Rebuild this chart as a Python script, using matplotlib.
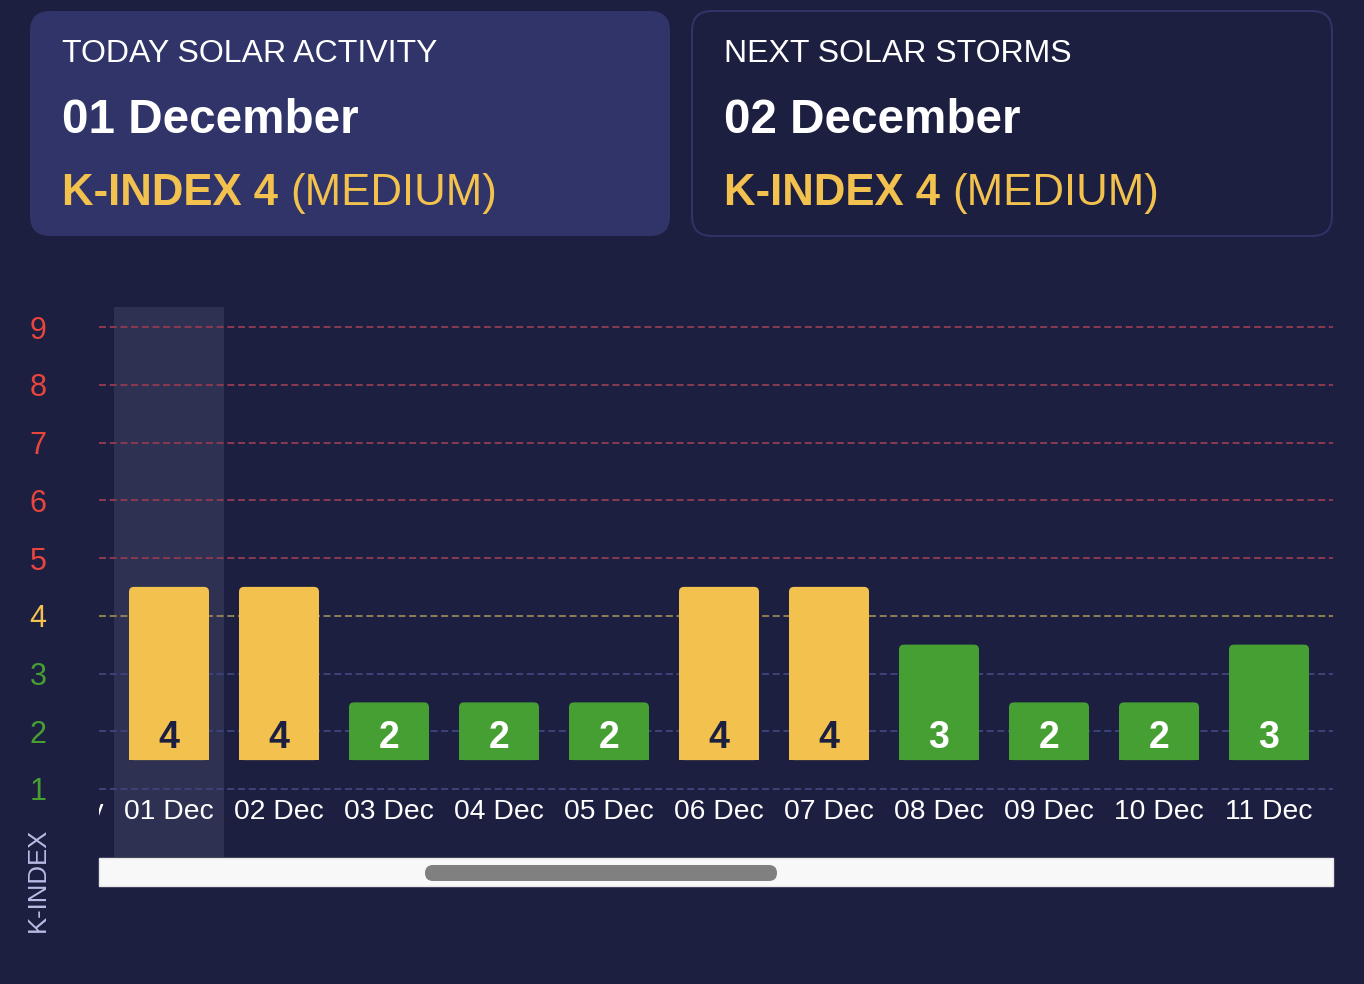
import matplotlib
matplotlib.use("Agg")
import matplotlib.pyplot as plt
from matplotlib.patches import FancyBboxPatch, Rectangle

# ---------------- data ----------------
prev_label = "30 Nov"
dates = ["01 Dec", "02 Dec", "03 Dec", "04 Dec", "05 Dec", "06 Dec",
         "07 Dec", "08 Dec", "09 Dec", "10 Dec", "11 Dec"]
kindex = [4, 4, 2, 2, 2, 4, 4, 3, 2, 2, 3]
levels = [1, 2, 3, 4, 5, 6, 7, 8, 9]
today_title = "TODAY SOLAR ACTIVITY"
today_date = "01 December"
today_k = "K-INDEX 4"
today_lvl = "(MEDIUM)"
next_title = "NEXT SOLAR STORMS"
next_date = "02 December"
next_k = "K-INDEX 4"
next_lvl = "(MEDIUM)"

# ---------------- style ----------------
BG = "#1d1f40"
CARD = "#303468"
CARD_EDGE = "#2f3366"
HIGHLIGHT = "#2e3152"
YELLOW = "#f2c14e"
GREEN = "#469f32"
RED = "#e8453c"
LAV = "#b9bde6"
FONT = "Liberation Sans"

plt.rcParams["font.family"] = [FONT, "DejaVu Sans"]

W, H = 1364, 984
fig = plt.figure(figsize=(W / 100, H / 100), dpi=100, facecolor=BG)

# background / layout layer in pixel coords
bg = fig.add_axes([0, 0, 1, 1], zorder=0)
bg.set_xlim(0, W)
bg.set_ylim(H, 0)
bg.axis("off")

def card(x, y, w, h, face, edge=None):
    p = FancyBboxPatch((x, y), w, h, boxstyle="round,pad=0,rounding_size=20",
                       facecolor=face, edgecolor=edge if edge else "none",
                       linewidth=1.5 if edge else 0)
    bg.add_patch(p)

card(30, 11, 640, 225, CARD)
card(692, 11, 640, 225, BG, CARD_EDGE)

def card_text(x, title, date, k, lvl):
    bg.text(x, 62, title, color="white", fontsize=23, va="baseline", ha="left")
    bg.text(x, 133, date, color="white", fontsize=34.3, fontweight="bold",
            va="baseline", ha="left")
    t = bg.text(x, 205, k, color=YELLOW, fontsize=31.5, fontweight="bold",
                va="baseline", ha="left")
    bg.annotate(lvl, xy=(1, 0), xycoords=t, xytext=(9, 0),
                textcoords="offset points", color=YELLOW, fontsize=31.5,
                va="bottom", ha="left")

card_text(62, today_title, today_date, today_k, today_lvl)
card_text(724, next_title, next_date, next_k, next_lvl)

# scrollbar
bg.add_patch(Rectangle((99, 858), 1234, 28, facecolor="#f8f8f8",
                       edgecolor="#e6e6e6", linewidth=1))
bg.add_patch(FancyBboxPatch((425, 865), 352, 16,
                            boxstyle="round,pad=0,rounding_size=8",
                            facecolor="#808080", edgecolor="none"))

# K-INDEX label
bg.text(38, 880, "K-INDEX", rotation=90, color=LAV, fontsize=18.5,
        ha="center", va="center")

# ---------------- chart ----------------
left, right, top, bottom = 99, 1333, 307, 857
ax = fig.add_axes([left / W, (H - bottom) / H, (right - left) / W,
                   (bottom - top) / H], zorder=1)
ax.set_facecolor("none")
for s in ax.spines.values():
    s.set_visible(False)

px_x = 110.0
px_y = 57.75
x0 = -(169 - left) / px_x
ax.set_xlim(x0, x0 + (right - left) / px_x)
y_top = 9 + (327 - top) / px_y
y_bot = 1 - (bottom - 789) / px_y
ax.set_ylim(y_bot, y_top)

ax.axvspan(-0.5, 0.5, color=HIGHLIGHT, zorder=0, lw=0)

def level_color(v):
    if v >= 5:
        return RED
    if v == 4:
        return YELLOW
    return GREEN

def grid_color(v):
    if v >= 5:
        return "#8a3a50"
    if v == 4:
        return "#8f7f52"
    return "#3f4278"

for v in levels:
    ax.axhline(v, color=grid_color(v), lw=1.4, linestyle=(0, (3.6, 1.9)),
               zorder=1)

xs = list(range(len(dates)))
colors = [YELLOW if v >= 4 else GREEN for v in kindex]
bars = ax.bar(xs, [v - 1 for v in kindex], bottom=1.5, width=80 / px_x,
              color=colors, zorder=3, linewidth=0)

# rounded top corners (radius ~5 px)
r_x = 5 / px_x
aspect = px_x / px_y
for b, c in zip(bars, colors):
    b.set_visible(False)
    bx, by, bw, bh = b.get_x(), b.get_y(), b.get_width(), b.get_height()
    ax.add_patch(FancyBboxPatch((bx, by), bw, bh,
                                boxstyle=f"round,pad=0,rounding_size={r_x}",
                                mutation_aspect=aspect, facecolor=c,
                                edgecolor="none", zorder=3))
    ax.add_patch(Rectangle((bx, by), bw, bh / 2, facecolor=c,
                           edgecolor="none", zorder=3))

for x, v, c in zip(xs, kindex, colors):
    ax.text(x, 1.88, str(v), ha="center", va="center", fontsize=27,
            fontweight="bold", color=BG if c == YELLOW else "white", zorder=4)

# x labels (clipped to the scroll viewport)
for x, lab in zip([-1] + xs, [prev_label] + dates):
    ax.text(x, 0.6, lab, ha="center", va="center", fontsize=20.3,
            color="white", clip_on=True, zorder=4)

ax.set_xticks([])
ax.set_yticks(levels)
ax.set_yticklabels([str(v) for v in levels], fontsize=22)
ax.tick_params(axis="y", length=0, pad=43.9)
for lab, v in zip(ax.get_yticklabels(), levels):
    lab.set_color(level_color(v))
    lab.set_horizontalalignment("center")

fig.savefig("out.png", dpi=100, facecolor=BG)
